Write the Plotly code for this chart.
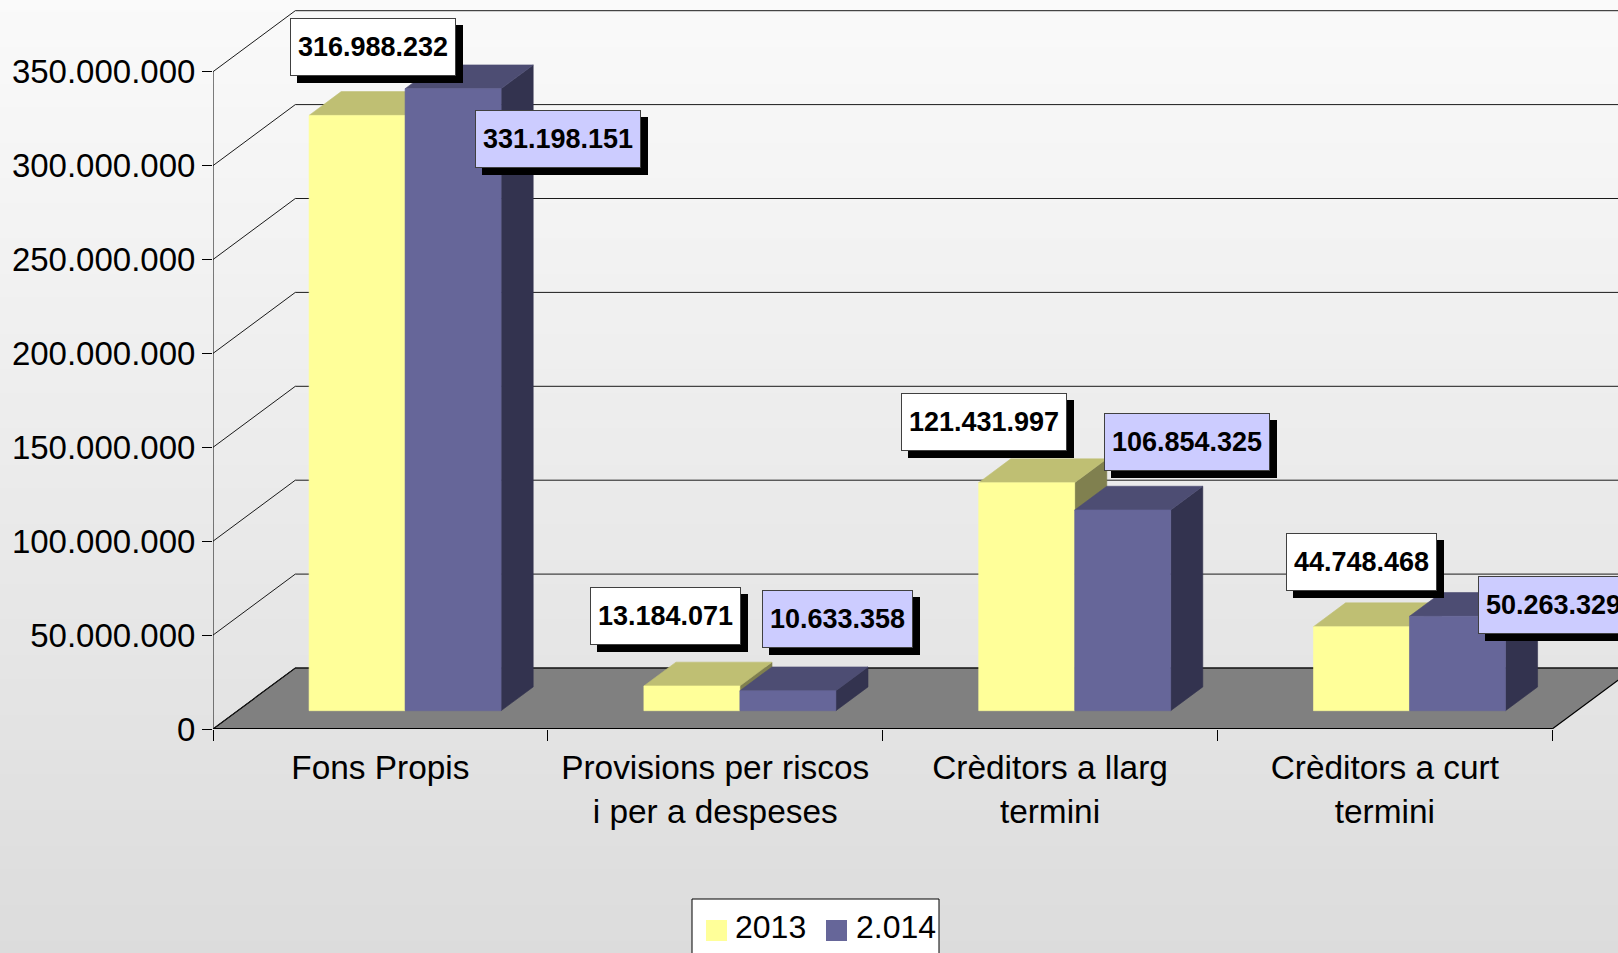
import plotly.graph_objects as go

# ---------------- data ----------------
CATEGORIES = ["Fons Propis", "Provisions per riscos<br>i per a despeses",
              "Crèditors a llarg<br>termini", "Crèditors a curt<br>termini"]
SERIES_NAMES = ["2013", "2.014"]
VALUES_2013 = [316988232, 13184071, 121431997, 44748468]
VALUES_2014 = [331198151, 10633358, 106854325, 50263329]
Y_TICKS = [0, 50000000, 100000000, 150000000, 200000000, 250000000, 300000000, 350000000]
Y_TICK_LABELS = ["0", "50.000.000", "100.000.000", "150.000.000", "200.000.000",
                 "250.000.000", "300.000.000", "350.000.000"]

# ---------------- styles / geometry ----------------
W, H = 1618, 953
L, R, T, B = 213, 0, 0, 224
PLOT_W, PLOT_H = W - L - R, H - T - B
CAT_PX = 334.8
VAL_PER_PX = 350000000 / (729 - 71.7)
X_RANGE = [0, PLOT_W / CAT_PX]
Y_RANGE = [0, PLOT_H * VAL_PER_PX]
DEPTH_X = 82.3 / CAT_PX
DEPTH_Y = 61 * VAL_PER_PX
F1, F2 = 0.30, 0.69
BAR_W = 96 / CAT_PX
FONT = "Liberation Sans, Arial, sans-serif"
LABEL_FONT_SIZE = 27

FACE_COLORS = [
    {"front": "#FFFF99", "top": "#BFBF73", "side": "#80804F"},
    {"front": "#666699", "top": "#4D4D73", "side": "#33334F"},
]
LABEL_BG = ["#FFFFFF", "#CCCCFF"]
# label box centre offsets (screen px, right/down) from the bar's top centre
LABEL_OFFSETS = [
    [(0, -57), (89, 62)],
    [(-42, -58), (34, -60)],
    [(-59, -49), (48, -56)],
    [(-16, -53), (80, 1)],
]


def proj(x, v, f):
    return x + f * DEPTH_X, v + f * DEPTH_Y


def px_x(p):
    return (p - L) / PLOT_W


def px_y(p):
    return (T + PLOT_H - p) / PLOT_H


def bold_text_width(s, size):
    # Arial/Liberation Sans Bold advance widths
    w = {".": 0.278, ",": 0.278}
    return sum(w.get(ch, 0.556) for ch in s) * size


fig = go.Figure()
shapes = []

# background gradient
N_BANDS = 80
for k in range(N_BANDS):
    t = (k + 0.5) / N_BANDS
    c = round(250 - 30 * t)
    shapes.append(dict(type="rect", xref="paper", yref="paper", layer="below",
                       x0=px_x(0), x1=px_x(W), y0=px_y(H * k / N_BANDS),
                       y1=px_y(H * (k + 1) / N_BANDS) - 0.002,
                       fillcolor=f"rgb({c},{c},{c})", line=dict(width=0)))

n_cat = len(CATEGORIES)
# floor
fl = [proj(0, 0, 0), proj(n_cat, 0, 0), proj(n_cat, 0, 1), proj(0, 0, 1)]
path = "M " + " L ".join(f"{x},{y}" for x, y in fl) + " Z"
shapes.append(dict(type="path", xref="x", yref="y", layer="below", path=path,
                   fillcolor="#808080", line=dict(color="#000000", width=1.2)))
# gridlines (side wall diagonal + back wall horizontal)
for v in Y_TICKS:
    a = proj(0, v, 0)
    b = proj(0, v, 1)
    c = (X_RANGE[1] + 0.5, b[1])
    shapes.append(dict(type="path", xref="x", yref="y", layer="below",
                       path=f"M {a[0]},{a[1]} L {b[0]},{b[1]} L {c[0]},{c[1]}",
                       line=dict(color="#1a1a1a", width=1)))
# front floor edge + value axis line
shapes.append(dict(type="line", xref="x", yref="y", x0=0, x1=n_cat, y0=0, y1=0,
                   line=dict(color="#000000", width=2)))
shapes.append(dict(type="line", xref="x", yref="y", x0=0, x1=0, y0=0, y1=Y_TICKS[-1],
                   line=dict(color="#000000", width=1)))


def poly_trace(pts, color):
    xs = [p[0] for p in pts] + [pts[0][0]]
    ys = [p[1] for p in pts] + [pts[0][1]]
    return go.Scatter(x=xs, y=ys, mode="lines", fill="toself", fillcolor=color,
                      line=dict(color=color, width=0.6), hoverinfo="skip",
                      showlegend=False)


series = [VALUES_2013, VALUES_2014]
annotations = []
for i in range(n_cat):
    for s, vals in enumerate(series):
        v = vals[i]
        x0 = i + 0.5 - BAR_W + s * BAR_W
        x1 = x0 + BAR_W
        cols = FACE_COLORS[s]
        side = [proj(x1, 0, F1), proj(x1, 0, F2), proj(x1, v, F2), proj(x1, v, F1)]
        top = [proj(x0, v, F1), proj(x1, v, F1), proj(x1, v, F2), proj(x0, v, F2)]
        front = [proj(x0, 0, F1), proj(x1, 0, F1), proj(x1, v, F1), proj(x0, v, F1)]
        fig.add_trace(poly_trace(side, cols["side"]))
        fig.add_trace(poly_trace(top, cols["top"]))
        fig.add_trace(poly_trace(front, cols["front"]))

        ax_, ay_ = proj((x0 + x1) / 2, v, (F1 + F2) / 2)
        dx, dy = LABEL_OFFSETS[i][s]
        txt = f"{v:,}".replace(",", ".")
        tw = round(bold_text_width(txt, LABEL_FONT_SIZE)) + 2
        common = dict(x=ax_, y=ay_, xref="x", yref="y", showarrow=False,
                      xanchor="center", yanchor="middle", borderpad=6,
                      width=tw, height=44, borderwidth=1)
        # drop shadow (empty box)
        annotations.append(dict(common, text=" ", xshift=dx + 7, yshift=-dy - 7,
                                font=dict(family=FONT, size=LABEL_FONT_SIZE, color="#000000"),
                                bgcolor="#000000", bordercolor="#000000"))
        annotations.append(dict(common, text=f"<b>{txt}</b>", xshift=dx, yshift=-dy,
                                font=dict(family=FONT, size=LABEL_FONT_SIZE, color="#000000"),
                                bgcolor=LABEL_BG[s], bordercolor="#404040"))

# manual legend
shapes.append(dict(type="rect", xref="paper", yref="paper",
                   x0=px_x(692), x1=px_x(939), y0=px_y(899), y1=px_y(H + 5),
                   fillcolor="#FFFFFF", line=dict(color="#000000", width=1)))
LEG_SWATCH_X = [706, 826]
LEG_TEXT_X = [734, 855]
for s in range(2):
    shapes.append(dict(type="rect", xref="paper", yref="paper",
                       x0=px_x(LEG_SWATCH_X[s]), x1=px_x(LEG_SWATCH_X[s] + 21),
                       y0=px_y(941), y1=px_y(920),
                       fillcolor=FACE_COLORS[s]["front"], line=dict(width=0)))
    annotations.append(dict(xref="paper", yref="paper", x=px_x(LEG_TEXT_X[s]), y=px_y(927),
                            xanchor="left", yanchor="middle", showarrow=False,
                            text=SERIES_NAMES[s], borderpad=0,
                            font=dict(family=FONT, size=32, color="#000000")))

fig.update_layout(
    width=W, height=H, template="none",
    margin=dict(l=L, r=R, t=T, b=B, pad=0),
    paper_bgcolor="#E6E6E6", plot_bgcolor="rgba(0,0,0,0)",
    showlegend=False, shapes=shapes, annotations=annotations,
    font=dict(family=FONT, size=32, color="#000000"),
    xaxis=dict(range=X_RANGE, tickmode="array",
               tickvals=[i + 0.5 for i in range(n_cat)], ticktext=CATEGORIES,
               ticks="", showgrid=False, zeroline=False, showline=False,
               automargin=False, fixedrange=True, ticklabelstandoff=16,
               tickfont=dict(family=FONT, size=33.4, color="#000000"),
               minor=dict(tickmode="array", tickvals=list(range(n_cat + 1)),
                          ticks="outside", ticklen=11, tickwidth=1, tickcolor="#000000")),
    yaxis=dict(range=Y_RANGE, tickmode="array", tickvals=Y_TICKS, ticktext=Y_TICK_LABELS,
               ticks="outside", ticklen=10, tickwidth=1, tickcolor="#000000",
               showgrid=False, zeroline=False, showline=False, automargin=False,
               fixedrange=True, ticklabelstandoff=0,
               tickfont=dict(family=FONT, size=33, color="#000000")),
)

fig.write_html("out.html", config={"displayModeBar": False},
               post_script="document.body.style.margin='0';document.body.style.overflow='hidden';")
